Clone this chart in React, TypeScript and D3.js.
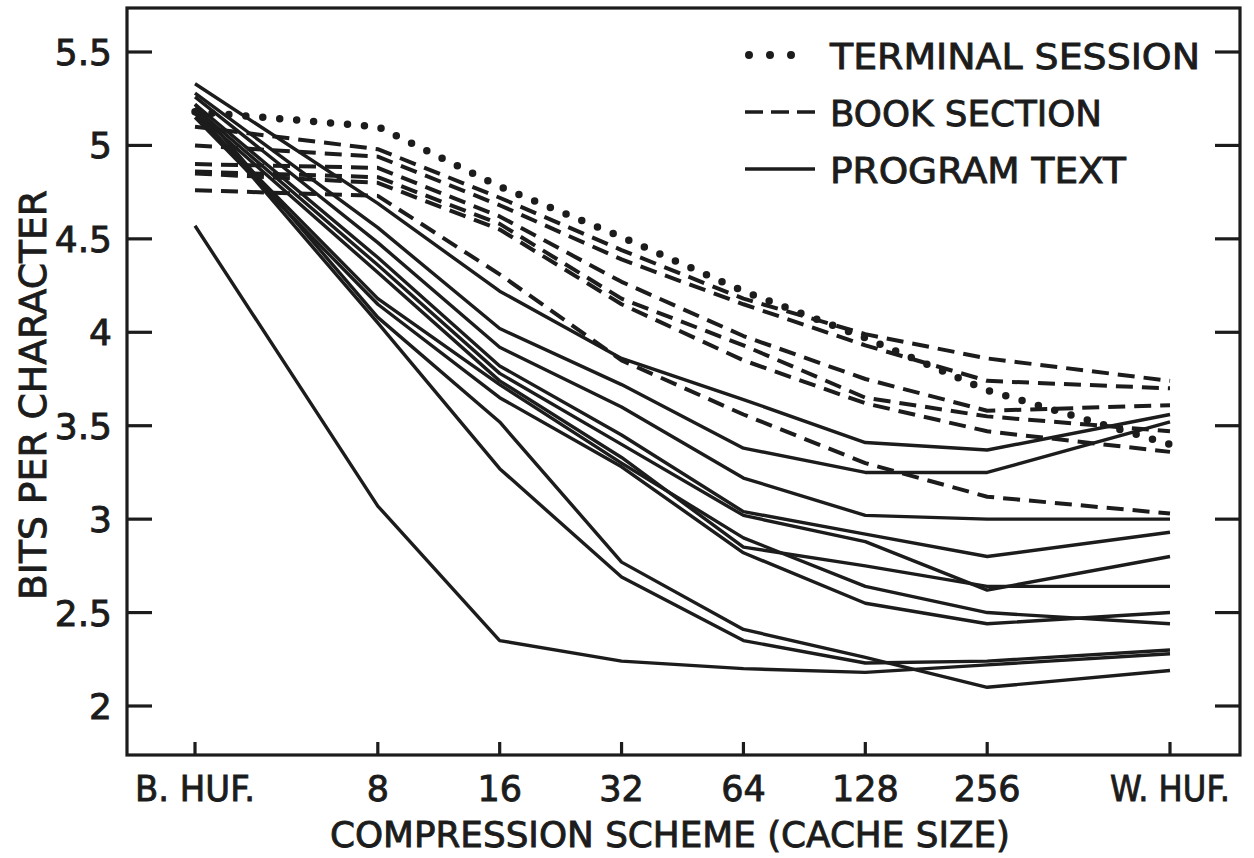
import React from 'react';
import * as d3 from 'd3';

// categories along the x axis, and the slot each one sits at (B. HUF. and W. HUF. sit further out)
const categories = ['B. HUF.', '8', '16', '32', '64', '128', '256', 'W. HUF.'];
const slots = [0, 1.5, 2.5, 3.5, 4.5, 5.5, 6.5, 8];
const yTicks = [2, 2.5, 3, 3.5, 4, 4.5, 5, 5.5];
const yTickLabels = ['2', '2.5', '3', '3.5', '4', '4.5', '5', '5.5'];

// terminal session (dotted)
const terminalSession = [[5.18, 5.1, 4.78, 4.51, 4.22, 3.97, 3.69, 3.4]];

// book section (dashed)
const bookSection = [
  [5.1, 4.98, 4.72, 4.44, 4.18, 3.99, 3.86, 3.74],
  [5.0, 4.94, 4.68, 4.39, 4.15, 3.93, 3.74, 3.7],
  [4.9, 4.88, 4.62, 4.27, 3.98, 3.75, 3.58, 3.61],
  [4.86, 4.83, 4.58, 4.18, 3.93, 3.65, 3.55, 3.47],
  [4.85, 4.8, 4.55, 4.15, 3.85, 3.62, 3.47, 3.36],
  [4.76, 4.73, 4.31, 3.85, 3.56, 3.3, 3.12, 3.03],
];

// program text (solid)
const programText = [
  [5.33, 4.69, 4.22, 3.86, 3.64, 3.41, 3.37, 3.56],
  [5.28, 4.56, 4.02, 3.72, 3.38, 3.25, 3.25, 3.52],
  [5.26, 4.48, 3.92, 3.6, 3.22, 3.02, 3.0, 3.0],
  [5.22, 4.4, 3.82, 3.45, 3.04, 2.92, 2.8, 2.93],
  [5.2, 4.36, 3.78, 3.4, 3.02, 2.88, 2.62, 2.8],
  [5.18, 4.32, 3.74, 3.33, 2.85, 2.75, 2.64, 2.64],
  [5.17, 4.18, 3.72, 3.3, 2.9, 2.64, 2.5, 2.44],
  [5.15, 4.15, 3.65, 3.28, 2.82, 2.55, 2.44, 2.5],
  [5.22, 4.08, 3.52, 2.77, 2.41, 2.26, 2.1, 2.19],
  [5.19, 4.05, 3.27, 2.69, 2.35, 2.23, 2.24, 2.3],
  [4.57, 3.07, 2.35, 2.24, 2.2, 2.18, 2.22, 2.28],
];

const legendItems = ['TERMINAL SESSION', 'BOOK SECTION', 'PROGRAM TEXT'];

export default function App() {
  const W = 1254;
  const H = 858;
  const ink = '#1c1c1c';
  const font = '"DejaVu Sans", Verdana, sans-serif';

  // frame
  const left = 127;
  const right = 1240;
  const top = 8;
  const bottom = 755;

  const x = d3.scaleLinear().domain([0, 8]).range([195, 1170]);
  const y = d3.scaleLinear().domain([2, 5.5]).range([706, 52]);

  const line = d3
    .line<number>()
    .x((d, i) => x(slots[i]))
    .y((d) => y(d));

  const styles = [
    { rows: terminalSession, dash: '0 17', width: 7.5, cap: 'round' },
    { rows: bookSection, dash: '17 9', width: 4, cap: 'butt' },
    { rows: programText, dash: null, width: 3.4, cap: 'butt' },
  ];

  // heavier lettering, like the stencilled original
  const txt = { fontFamily: font, fill: ink, stroke: ink, strokeWidth: 0.9 };

  return (
    <svg width={W} height={H} style={{ position: 'absolute', left: 0, top: 0, background: '#fff' }}>
      <rect x={0} y={0} width={W} height={H} fill="#fff" />

      {/* data lines, solid first so dashed/dotted lie over them */}
      {[styles[2], styles[1], styles[0]].map((s, k) =>
        s.rows.map((row, i) => (
          <path
            key={k + '-' + i}
            d={line(row) || ''}
            fill="none"
            stroke={ink}
            strokeWidth={s.width}
            strokeDasharray={s.dash || undefined}
            strokeLinecap={s.cap as any}
            strokeLinejoin="round"
          />
        ))
      )}

      {/* frame */}
      <rect x={left} y={top} width={right - left} height={bottom - top} fill="none" stroke={ink} strokeWidth={3.2} />

      {/* y ticks, both sides, pointing in */}
      {yTicks.map((t, i) => (
        <g key={'yt' + i}>
          <line x1={left} x2={left + 25} y1={y(t)} y2={y(t)} stroke={ink} strokeWidth={3.2} />
          <line x1={right - 25} x2={right} y1={y(t)} y2={y(t)} stroke={ink} strokeWidth={3.2} />
          <text {...txt} x={112} y={y(t) + 13} textAnchor="end" fontSize={36}>
            {yTickLabels[i]}
          </text>
        </g>
      ))}

      {/* x ticks */}
      {categories.map((c, i) => (
        <g key={'xt' + i}>
          <line x1={x(slots[i])} x2={x(slots[i])} y1={bottom} y2={bottom - 13} stroke={ink} strokeWidth={3.2} />
          <text
            {...txt}
            x={x(slots[i])}
            y={801}
            textAnchor="middle"
            fontSize={35}
            textLength={c.length > 3 ? 120 : undefined}
            lengthAdjust="spacingAndGlyphs"
          >
            {c}
          </text>
        </g>
      ))}

      {/* axis titles */}
      <text {...txt} x={330} y={847} fontSize={35} textLength={680} lengthAdjust="spacingAndGlyphs">
        COMPRESSION SCHEME (CACHE SIZE)
      </text>
      <text
        {...txt}
        transform="translate(46, 600) rotate(-90)"
        fontSize={38}
        textLength={410}
        lengthAdjust="spacingAndGlyphs"
      >
        BITS PER CHARACTER
      </text>

      {/* legend */}
      {legendItems.map((item, i) => {
        const ly = 55 + i * 57;
        return (
          <g key={'lg' + i}>
            <line
              x1={i === 0 ? 749 : 745}
              x2={i === 0 ? 812 : 815}
              y1={ly}
              y2={ly}
              stroke={ink}
              strokeWidth={i === 0 ? 8 : 3.6}
              strokeDasharray={i === 0 ? '0 21' : i === 1 ? '18 8' : undefined}
              strokeLinecap={i === 0 ? 'round' : 'butt'}
            />
            <text
              {...txt}
              x={830}
              y={ly + 14}
              fontSize={36}
              textLength={[370, 272, 296][i]}
              lengthAdjust="spacingAndGlyphs"
            >
              {item}
            </text>
          </g>
        );
      })}
    </svg>
  );
}
